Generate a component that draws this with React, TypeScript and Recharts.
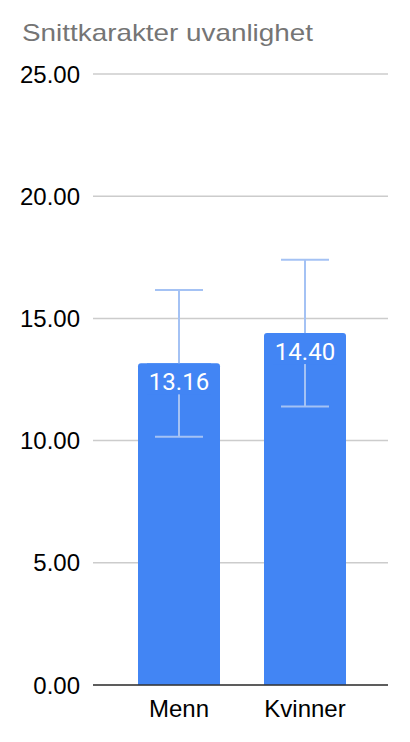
import { BarChart, Bar, XAxis, YAxis, CartesianGrid, ErrorBar, LabelList } from 'recharts';

const categories = ['Menn', 'Kvinner'];
const averages = [13.16, 14.4];
const errors = [3, 3];
const yTicks = [0, 5, 10, 15, 20, 25];

const BAR_COLOR = '#4285f4';

const data = categories.map((name, i) => ({ name, value: averages[i], err: errors[i] }));

// white value text on a bar-coloured patch, so the error line is hidden behind it
function ValueLabel(props: any) {
  const { x, y, width, value } = props;
  const cx = x + width / 2;
  return (
    <g>
      <rect x={cx - 32} y={y} width={64} height={31} fill={BAR_COLOR} />
      <text
        x={cx}
        y={y + 27}
        textAnchor="middle"
        fill="#ffffff"
        fontFamily="Roboto"
        fontSize={24}
      >
        {Number(value).toFixed(2)}
      </text>
    </g>
  );
}

export default function App() {
  return (
    <div style={{ position: 'absolute', left: 0, top: 0, width: 410, height: 742, background: '#fff' }}>
      <BarChart
        width={410}
        height={742}
        data={data}
        margin={{ top: 74, right: 22, left: 0, bottom: 0 }}
      >
        <CartesianGrid vertical={false} stroke="#cccccc" strokeWidth={1.5} />
        <XAxis
          dataKey="name"
          height={57}
          padding={{ left: 23, right: 20 }}
          tickLine={false}
          tickSize={0}
          tickMargin={15}
          axisLine={{ stroke: '#333333', strokeWidth: 1.5 }}
          tick={{ fill: '#000000', fontFamily: 'Liberation Sans', fontSize: 24 }}
        />
        <YAxis
          width={93}
          domain={[0, 25]}
          ticks={yTicks}
          axisLine={false}
          tickLine={false}
          tickSize={0}
          tickMargin={13}
          tickFormatter={(v: number) => v.toFixed(2)}
          tick={{ fill: '#000000', fontFamily: 'Liberation Sans', fontSize: 24 }}
        />
        <Bar dataKey="value" fill={BAR_COLOR} barSize={82} radius={[3, 3, 0, 0]} isAnimationActive={false}>
          <ErrorBar dataKey="err" width={24} stroke="#a4c2f4" strokeWidth={2} />
          <LabelList dataKey="value" content={ValueLabel} />
        </Bar>
      </BarChart>
      <svg width={410} height={742} style={{ position: 'absolute', left: 0, top: 0, pointerEvents: 'none' }}>
        <text
          x={22}
          y={41}
          fill="#757575"
          fontFamily="Liberation Sans"
          fontSize={24}
          textLength={291}
          lengthAdjust="spacingAndGlyphs"
        >
          Snittkarakter uvanlighet
        </text>
      </svg>
    </div>
  );
}
